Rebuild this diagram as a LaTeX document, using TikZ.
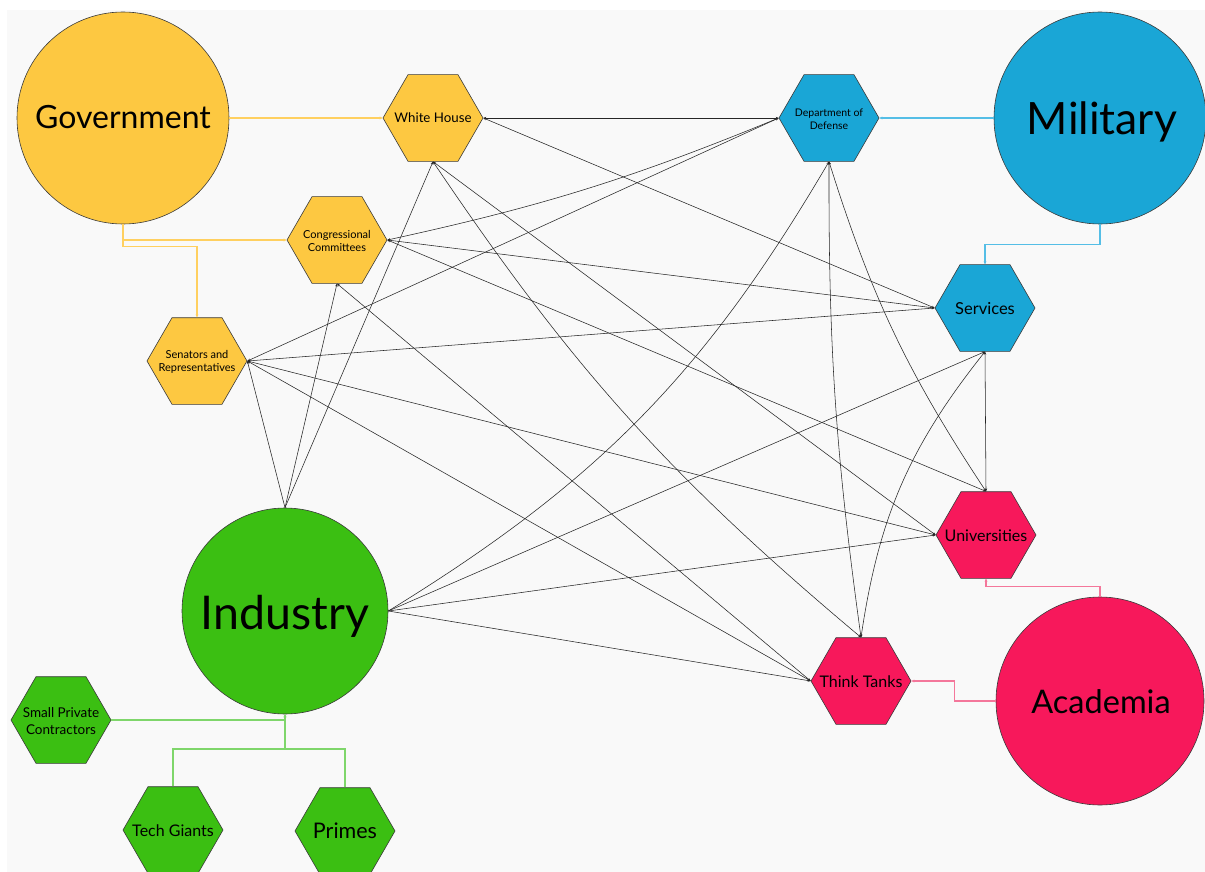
\documentclass[tikz,border=0pt]{standalone}
\usepackage{fontspec}
\setmainfont{Lato}
\usetikzlibrary{shapes.geometric,arrows.meta,calc}
\definecolor{bggray}{HTML}{F9F9F9}
\definecolor{outline}{HTML}{3A3A3A}
\definecolor{govY}{HTML}{FDC841}
\definecolor{milB}{HTML}{1AA6D6}
\definecolor{acR}{HTML}{F7185B}
\definecolor{indG}{HTML}{3BBF12}
\definecolor{govL}{HTML}{FFD060}
\definecolor{milL}{HTML}{55BEE6}
\definecolor{acL}{HTML}{F4779B}
\definecolor{indL}{HTML}{7FD66B}
\begin{document}
\begin{tikzpicture}[x=1pt,y=-1pt,
  hexnode/.style={regular polygon, regular polygon sides=6, minimum size=100pt, inner sep=0pt, draw=outline, line width=0.6pt},
  bigcirc/.style={circle, inner sep=0pt, draw=outline, line width=0.6pt},
  bigtext/.style={anchor=base, inner sep=0pt},
  hextext/.style={inner sep=0pt, align=center},
  link/.style={draw=black!85, line width=0.55pt, {Stealth[length=3pt,width=2.4pt]}-{Stealth[length=3pt,width=2.4pt]}},
  ilink/.style={draw=black!85, line width=0.55pt, -{Stealth[length=3pt,width=2.4pt]}},
  conn/.style={line width=1.3pt, -{Stealth[length=3pt,width=2.8pt]}}
]
\useasboundingbox (0,0) rectangle (1205,872);
\fill[white] (0,0) rectangle (1205,872);
\fill[bggray] (7,10) rectangle (1205,872);

% big circles
\node[bigcirc, fill=govY, minimum size=212pt] (gov) at (123,118) {};
\node[bigcirc, fill=milB, minimum size=212pt] (mil) at (1100,118) {};
\node[bigcirc, fill=indG, minimum size=206pt] (ind) at (285,611) {};
\node[bigcirc, fill=acR, minimum size=208pt] (ac) at (1100,701) {};

% hexagons
\node[hexnode, fill=govY] (wh) at (433,118) {};
\node[hexnode, fill=govY] (cc) at (337,240) {};
\node[hexnode, fill=govY] (sr) at (197,361) {};
\node[hexnode, fill=milB] (dod) at (829,118) {};
\node[hexnode, fill=milB] (sv) at (985,308) {};
\node[hexnode, fill=acR] (un) at (986,535) {};
\node[hexnode, fill=acR] (tt) at (861,681) {};
\node[hexnode, fill=indG] (spc) at (61,720) {};
\node[hexnode, fill=indG] (tg) at (173,830) {};
\node[hexnode, fill=indG] (pr) at (345,831) {};

% labels
\node[bigtext, font=\fontsize{32}{36}\selectfont] (govt) at (123,129) {Government};
\node[bigtext, font=\fontsize{44.5}{50}\selectfont] (milt) at (1102,135) {Military};
\node[bigtext, font=\fontsize{46.5}{52}\selectfont] (indt) at (285,629) {Industry};
\node[bigtext, font=\fontsize{32.5}{38}\selectfont] (act) at (1101,713) {Academia};
\node[bigtext, font=\fontsize{13.3}{15}\selectfont] (wht) at (433,123) {White House};
\node[hextext, font=\fontsize{11}{13}\selectfont] (cct) at (337,241) {Congressional\\Committees};
\node[hextext, font=\fontsize{11}{13}\selectfont] (srt) at (197,362) {Senators and\\Representatives};
\node[hextext, font=\fontsize{10.5}{13}\selectfont] (dodt) at (829,119) {Department of\\Defense};
\node[bigtext, font=\fontsize{16.5}{18}\selectfont] (svt) at (985,314) {Services};
\node[bigtext, font=\fontsize{16}{18}\selectfont] (unt) at (986,541) {Universities};
\node[bigtext, font=\fontsize{16}{18}\selectfont] (ttt) at (861,687) {Think Tanks};
\node[hextext, font=\fontsize{13.5}{17}\selectfont] (spct) at (61,721) {Small Private\\Contractors};
\node[bigtext, font=\fontsize{16}{18}\selectfont] (tgt) at (173,836) {Tech Giants};
\node[bigtext, font=\fontsize{21.5}{24}\selectfont] (prt) at (345,838) {Primes};

% coloured connectors
\draw[conn, govL] (gov.east) -- (wh.west);
\draw[conn, govL] (gov.south) |- (cc.west);
\draw[conn, govL] (gov.south) -- ++(0,22) -| (sr.north);
\draw[conn, milL] (mil.west) -- (dod.east);
\draw[conn, milL] (mil.south) -- ++(0,20) -| (sv.north);
\draw[conn, acL] (ac.north) -- ++(0,-10) -| (un.south);
\draw[conn, acL] (ac.west) -- ++(-41,0) |- (tt.east);
\coordinate (gj) at (285,749);
\draw[conn, indL] (spc.east) -| (ind.south);
\draw[indL, line width=1.3pt] (tg.north) |- (gj);
\draw[indL, line width=1.3pt] (pr.north) |- (gj);
\draw[conn, indL] (gj) -- (ind.south);

% black links
\draw[link] (wh.east) -- (dod.west);
\draw[link] (wh.east) -- (sv.west);
\draw[link] (wh.south) -- (un.west);
\draw[link] (wh.south) to[bend right=8] (tt.north);
\draw[link] (cc.east) to[bend right=5] (dod.west);
\draw[link] (cc.east) -- (sv.west);
\draw[link] (cc.east) -- (un.north);
\draw[link] (cc.south) -- (tt.west);
\draw[link] (sr.east) -- (dod.west);
\draw[link] (sr.east) -- (sv.west);
\draw[link] (sr.east) -- (un.west);
\draw[link] (sr.east) -- (tt.west);
\draw[link] (dod.south) to[bend right=8] (un.north);
\draw[link] (dod.south) to[bend right=4] (tt.north);
\draw[link] (sv.south) -- (un.north);
\draw[link] (sv.south) to[bend right=15] (tt.north);

\draw[ilink] (ind.north) -- (wh.south);
\draw[ilink] (ind.north) -- (cc.south);
\draw[ilink] (ind.north) -- (sr.east);
\draw[ilink] (ind.east) to[bend right=14] (dod.south);
\draw[ilink] (ind.east) -- (sv.south);
\draw[ilink] (ind.east) -- (un.west);
\draw[ilink] (ind.east) -- (tt.west);
\end{tikzpicture}
\end{document}
